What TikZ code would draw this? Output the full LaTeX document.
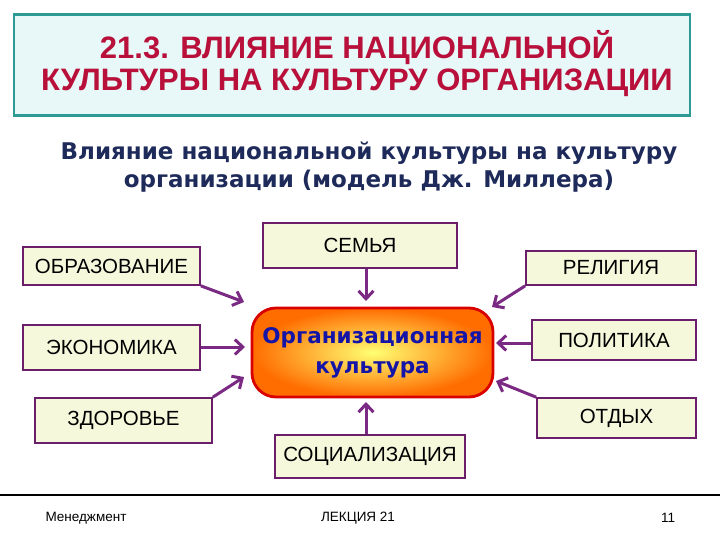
\documentclass[tikz,border=0pt]{standalone}
\usepackage{fontspec}
\setmainfont{Liberation Sans}
\newfontfamily\verd{DejaVu Sans}
\usetikzlibrary{arrows.meta}

\definecolor{titlered}{HTML}{B8103A}
\definecolor{titlefill}{HTML}{E8F8F8}
\definecolor{titleedge}{HTML}{2E9A94}
\definecolor{subnavy}{HTML}{1E2A5A}
\definecolor{boxedge}{HTML}{6B1F6B}
\definecolor{boxfill}{HTML}{F6F8DC}
\definecolor{arrowpurple}{HTML}{7B2A83}
\definecolor{orgblue}{HTML}{1414A8}

\tikzset{
  factor/.style={draw=boxedge, line width=1.6pt, fill=boxfill, inner sep=0pt,
    font=\fontsize{20.5}{22}\selectfont},
  arr/.style={arrowpurple, line width=3pt, -{Straight Barb[length=8pt,width=15pt]}},
  foot/.style={font=\fontsize{13.5}{15}\selectfont}
}

\begin{document}
\begin{tikzpicture}[x=1pt,y=-1pt]
		\useasboundingbox (0,0) rectangle (720,540);
		\fill[white] (0,0) rectangle (720,540);
		
		% title
		\node[draw=titleedge, line width=2.5pt, fill=titlefill, minimum width=676pt, minimum height=101pt] (title) at (352,65) {};
		\node[text=titlered, font=\bfseries\fontsize{31}{32}\selectfont, align=center] (titletext) at (357,64) {21.3. ВЛИЯНИЕ НАЦИОНАЛЬНОЙ\\КУЛЬТУРЫ НА КУЛЬТУРУ ОРГАНИЗАЦИИ};
		
		\node[text=subnavy, font=\verd\bfseries\fontsize{23}{28}\selectfont, align=center] (sub) at (369,167) {Влияние национальной культуры на культуру\\организации (модель Дж. Миллера)};
		
		% center
		\node[draw=red!85!black, line width=2.8pt, rounded corners=24pt, inner color=yellow!55!white, outer color=orange!85!red,
			minimum width=241pt, minimum height=89pt, text=orgblue, font=\verd\bfseries\fontsize{21.5}{30}\selectfont, align=center] (org) at (372.5,352.5) {Организационная\\культура};
		
		% factors
		\node[factor, minimum width=177pt, minimum height=38pt] (obr) at (111.5,266) {ОБРАЗОВАНИЕ};
		\node[factor, minimum width=177pt, minimum height=45pt] (eko) at (111.5,347.5) {ЭКОНОМИКА};
		\node[factor, minimum width=177pt, minimum height=45pt] (zdr) at (123.5,420.5) {ЗДОРОВЬЕ};
		\node[factor, minimum width=194pt, minimum height=45pt] (sem) at (360,245.5) {СЕМЬЯ};
		\node[factor, minimum width=170pt, minimum height=34pt] (rel) at (611,268) {РЕЛИГИЯ};
		\node[factor, minimum width=164pt, minimum height=40pt] (pol) at (614,340) {ПОЛИТИКА};
		\node[factor, minimum width=159pt, minimum height=40pt] (otd) at (616.5,418) {ОТДЫХ};
		\node[factor, minimum width=190pt, minimum height=43pt] (soc) at (370,456.5) {СОЦИАЛИЗАЦИЯ};
		
		% arrow tips
		\coordinate (tobr) at (244,302);
		\coordinate (teko) at (245,347);
		\coordinate (tzdr) at (244,377);
		\coordinate (tsem) at (366,301);
		\coordinate (trel) at (492,307);
		\coordinate (tpol) at (496,343);
		\coordinate (totd) at (496,381);
		\coordinate (tsoc) at (366,402);
		
		\draw[arr] (obr.south east) -- (tobr);
		\draw[arr] (eko.east |- teko) -- (teko);
		\draw[arr] (zdr.north east) -- (tzdr);
		\draw[arr] (sem.south -| tsem) -- (tsem);
		\draw[arr] (rel.south west) -- (trel);
		\draw[arr] (pol.west |- tpol) -- (tpol);
		\draw[arr] (otd.north west) -- (totd);
		\draw[arr] (soc.north -| tsoc) -- (tsoc);
		
		% footer
		\draw[line width=2pt] (0,495) -- (720,495);
		\node[foot] (f1) at (86,518) {Менеджмент};
		\node[foot] (f2) at (358,518) {ЛЕКЦИЯ 21};
		\node[foot] (f3) at (668,518) {11};
	\end{tikzpicture}
\end{document}
